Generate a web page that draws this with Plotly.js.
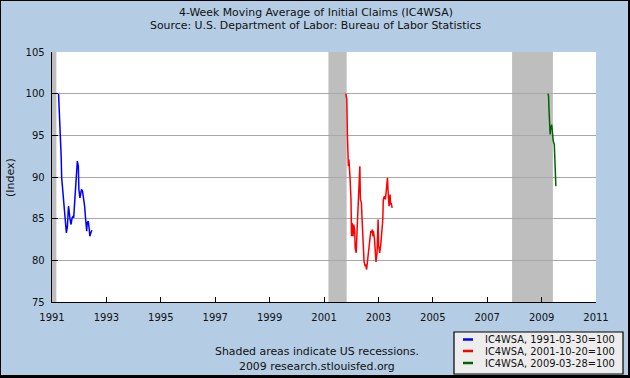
<!DOCTYPE html>
<html>
<head>
<meta charset="utf-8">
<script src="https://cdn.plot.ly/plotly-3.0.1.min.js"></script>
<style>
html,body{margin:0;padding:0;background:#000;width:630px;height:378px;overflow:hidden;}
#chart{position:absolute;left:1px;top:1px;width:627px;height:374px;}
</style>
</head>
<body>
<div id="chart"></div>
<script>
// ---- data ----
const seriesNames = ['IC4WSA, 1991-03-30=100', 'IC4WSA, 2001-10-20=100', 'IC4WSA, 2009-03-28=100'];
const seriesColors = ['#0000FF', '#FF0000', '#006400'];

const blueStart = '1991-03-30';
const blueWeeks = [0,2,3,5,6,8,10,12,13,15,17,19,20,22,24,26,28,29,31,33,34,36,38,39,41,42,44,46,47,49,50,52,54,55,57,59,60,62,64];
const blueValues = [100,97.3,94.3,92.5,89.9,88.3,86.7,85.2,83.9,83.3,84.1,86.5,86.1,84.9,84.3,85.1,85.3,85.1,87.5,89.1,90.9,91.9,91.3,88.5,87.5,87.9,88.5,88.3,87.9,86.9,86.5,84.9,83.5,84.5,84.7,83.7,82.9,83.3,83.6];

const redStart = '2001-10-20';
const redWeeks = [0,2,3,4,5,6,7,8,10,11,12,13,14,15,17,18,20,22,24,26,27,28,30,31,32,34,35,37,38,40,42,44,46,48,49,51,52,53,55,56,58,60,61,62,63,65,67,69,71,72,74,76,77,79,80,81,83,85,86,87,89];
const redValues = [100,99.3,95.3,92.9,91.3,92.1,91.3,90.1,87.3,82.9,84.5,84.1,82.9,84.3,83.7,81.5,80.9,84.1,88.1,91.1,91.3,87.3,86.9,85.3,83.1,81.3,79.9,79.3,79.5,78.9,80.1,81.5,83.1,83.5,83.3,83.7,82.9,83.5,82.6,81.8,79.8,80.9,82.9,84.9,81.8,80.9,81.8,83.7,84.9,87.3,87.7,87.3,88.1,89.7,89.9,88.5,86.5,87.9,86.7,86.9,86.3];

const greenStart = '2009-03-28';
const greenWeeks = [0,1,2,3,4,5,6,7,8,9,10,12,13,15];
const greenValues = [100,99.7,97.9,96.5,95.1,96.1,95.7,96.3,95.5,95.4,94.3,93.9,90.9,88.9];

const recessionStarts = ['1990-07-01', '2001-03-01', '2007-12-01'];
const recessionEnds = ['1991-03-01', '2001-11-01', '2009-06-01'];

const xRange = ['1991-01-01', '2011-01-01'];
const yRange = [75, 105];

const titleLines = ['4-Week Moving Average of Initial Claims (IC4WSA)', 'Source: U.S. Department of Labor: Bureau of Labor Statistics'];
const footerLines = ['Shaded areas indicate US recessions.', '2009 research.stlouisfed.org'];
const yTitle = '(Index)';

// ---- helpers ----
function weeklyDates(start, weeks) {
  const t0 = Date.parse(start + 'T00:00:00Z');
  return weeks.map(w => new Date(t0 + w * 7 * 864e5).toISOString().slice(0, 10));
}

const W = 627, H = 374;
const M = {l: 51, r: 32, t: 51, b: 73};
const PW = W - M.l - M.r, PH = H - M.t - M.b;
const px = x => (x - 1 - M.l) / PW;        // page x -> paper
const py = y => 1 - (y - 1 - M.t) / PH;    // page y -> paper

const FONT = 'DejaVu Sans, Verdana, sans-serif';

const traces = [
  {x: weeklyDates(blueStart, blueWeeks), y: blueValues},
  {x: weeklyDates(redStart, redWeeks), y: redValues},
  {x: weeklyDates(greenStart, greenWeeks), y: greenValues}
].map((d, i) => ({
  type: 'scatter', mode: 'lines', x: d.x, y: d.y, name: seriesNames[i],
  line: {color: seriesColors[i], width: 1.5}, showlegend: false, hoverinfo: 'skip'
}));

const shapes = recessionStarts.map((s, i) => ({
  type: 'rect', xref: 'x', yref: 'paper', x0: s, x1: recessionEnds[i], y0: 0, y1: 1,
  fillcolor: '#BEBEBE', line: {width: 0}, layer: 'below'
}));

// legend box
shapes.push({type: 'rect', xref: 'paper', yref: 'paper',
  x0: px(454), x1: px(623), y0: py(374), y1: py(332),
  fillcolor: '#EDEDED', line: {color: '#000', width: 1.2}});
const legendRows = [339.5, 351, 363];
const annotations = [];
seriesNames.forEach((n, i) => {
  shapes.push({type: 'line', xref: 'paper', yref: 'paper',
    x0: px(463), x1: px(473), y0: py(legendRows[i]), y1: py(legendRows[i]),
    line: {color: seriesColors[i], width: 2.5}});
  annotations.push({xref: 'paper', yref: 'paper', x: px(483), y: py(legendRows[i]),
    xanchor: 'left', yanchor: 'middle', showarrow: false, text: n,
    font: {family: FONT, size: 9.9, color: '#111'}});
});

titleLines.forEach((t, i) => {
  annotations.push({xref: 'paper', yref: 'paper', x: px(316), y: py([12, 26][i]),
    xanchor: 'center', yanchor: 'middle', showarrow: false, text: t,
    font: {family: FONT, size: 10.9, color: '#111'}});
});
footerLines.forEach((t, i) => {
  annotations.push({xref: 'paper', yref: 'paper', x: px(317), y: py([351, 366][i]),
    xanchor: 'center', yanchor: 'middle', showarrow: false, text: t,
    font: {family: FONT, size: 10.9, color: '#111'}});
});
annotations.push({xref: 'paper', yref: 'paper', x: px(10), y: py(178),
  xanchor: 'center', yanchor: 'middle', showarrow: false, text: yTitle, textangle: -90,
  font: {family: FONT, size: 11, color: '#111'}});

const layout = {
  width: W, height: H,
  margin: M,
  paper_bgcolor: '#B4CCE4',
  plot_bgcolor: '#FFFFFF',
  showlegend: false,
  font: {family: FONT, size: 10, color: '#111'},
  xaxis: {
    type: 'date', range: xRange, tick0: '1991-01-01', dtick: 'M24', tickformat: '%Y',
    ticks: 'inside', ticklen: 5, tickwidth: 1, tickcolor: '#000',
    showline: true, linecolor: '#000', linewidth: 1.3, showgrid: false, zeroline: false,
    tickfont: {family: FONT, size: 10, color: '#111'}, ticklabelstandoff: 6
  },
  yaxis: {
    range: yRange, tick0: 75, dtick: 5,
    ticks: 'inside', ticklen: 6, tickwidth: 1, tickcolor: '#000',
    showline: true, linecolor: '#000', linewidth: 1.3,
    showgrid: true, gridcolor: '#A8A8A8', gridwidth: 1, zeroline: false,
    tickfont: {family: FONT, size: 10, color: '#111'}, ticklabelstandoff: 4
  },
  shapes: shapes,
  annotations: annotations
};

Plotly.newPlot('chart', traces, layout, {staticPlot: true, displayModeBar: false});
</script>
</body>
</html>
